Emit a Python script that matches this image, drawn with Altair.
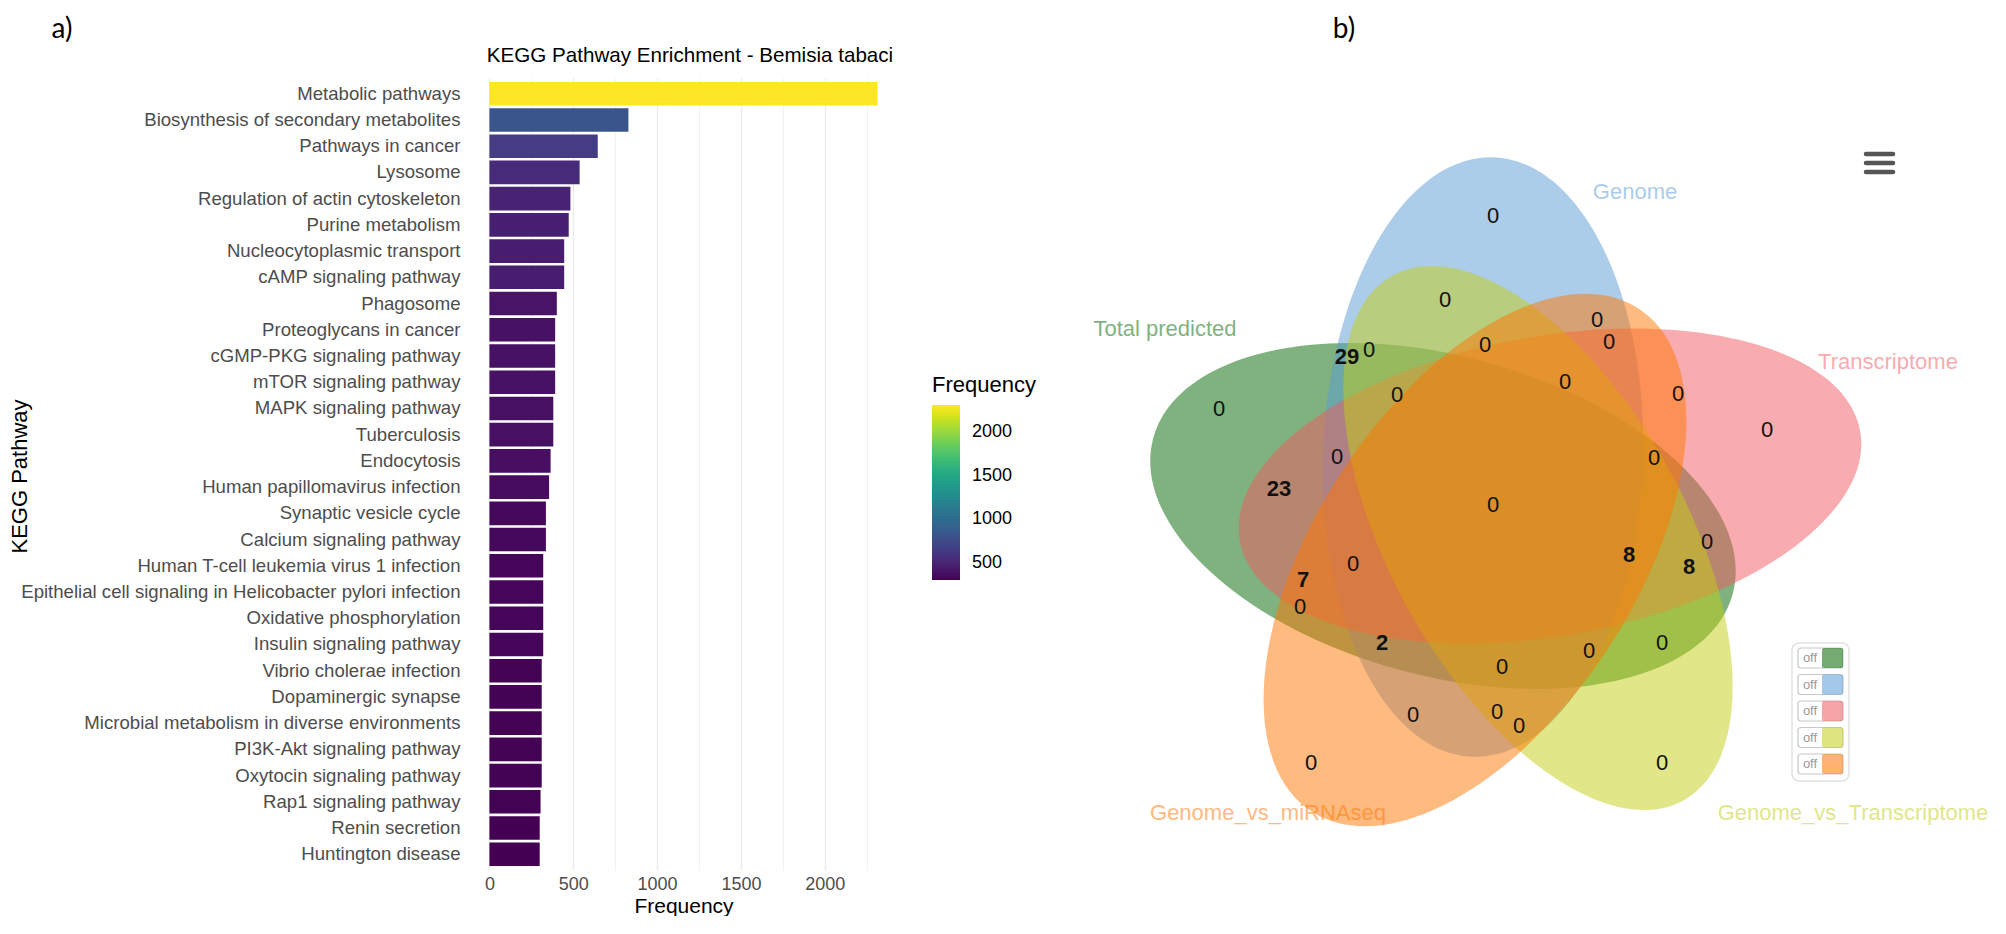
import altair as alt
import pandas as pd

# ---------------- panel a data ----------------
pathways = [
    "Metabolic pathways", "Biosynthesis of secondary metabolites", "Pathways in cancer", "Lysosome",
    "Regulation of actin cytoskeleton", "Purine metabolism", "Nucleocytoplasmic transport",
    "cAMP signaling pathway", "Phagosome", "Proteoglycans in cancer", "cGMP-PKG signaling pathway",
    "mTOR signaling pathway", "MAPK signaling pathway", "Tuberculosis", "Endocytosis",
    "Human papillomavirus infection", "Synaptic vesicle cycle", "Calcium signaling pathway",
    "Human T-cell leukemia virus 1 infection",
    "Epithelial cell signaling in Helicobacter pylori infection", "Oxidative phosphorylation",
    "Insulin signaling pathway", "Vibrio cholerae infection", "Dopaminergic synapse",
    "Microbial metabolism in diverse environments", "PI3K-Akt signaling pathway",
    "Oxytocin signaling pathway", "Rap1 signaling pathway", "Renin secretion", "Huntington disease",
]
frequency = [2315, 829, 646, 538, 483, 473, 446, 446, 402, 392, 392, 392, 381, 381, 365,
             356, 337, 337, 321, 321, 321, 321, 312, 312, 312, 312, 312, 305, 300, 300]
x_ticks = [0, 250, 500, 750, 1000, 1250, 1500, 1750, 2000, 2250]
legend_ticks = [500, 1000, 1500, 2000]
bar_title = ["KEGG Pathway Enrichment - Bemisia tabaci"]

# ---------------- panel b data ----------------
set_names = ["Total predicted", "Genome", "Transcriptome", "Genome_vs_Transcriptome", "Genome_vs_miRNAseq"]
set_colors = ["#006600", "#5a9bd4", "#f15a60", "#c3cd14", "#ff7500"]
region_counts = [0, 0, 0, 0, 29, 0, 0, 0, 0, 23, 0, 0, 7, 0, 2, 0,
                 0, 0, 0, 0, 0, 8, 8, 0, 0, 0, 0, 0, 0, 0, 0]
panel_tags = ["a)", "b)"]

# ---------------- layout (page pixel positions) ----------------
PAD_TOP = 8
PL, PT, PW, PH = 468, 74, 427, 792          # bar panel plot area
VX0, VY0 = 1056, 74                         # Venn panel origin
WV, HV = 1995 - VX0, 760
ell_x = [1443, 1483, 1550, 1538, 1475]
ell_y = [512, 453, 482, 534, 556]
ell_rot = [15, 92, 170, 61, 123]
ell_a = [300, 300, 315, 300, 300]
ell_b = [160, 160, 150, 148, 160]
lab_x = [1165, 1635, 1888, 1853, 1268]
lab_y = [325, 188, 358, 809, 809]
region_x = [1493, 1445, 1485, 1565, 1347, 1369, 1397, 1219, 1337, 1279, 1493, 1353, 1303, 1300, 1382, 1597,
            1609, 1678, 1767, 1654, 1707, 1629, 1689, 1589, 1662, 1662, 1502, 1413, 1497, 1519, 1311]
region_y = [212, 296, 341, 378, 353, 346, 391, 405, 453, 485, 501, 560, 576, 603, 639, 316,
            338, 390, 426, 454, 538, 551, 563, 647, 639, 759, 663, 711, 708, 722, 759]
toggle_y = [654, 680.5, 707, 733.5, 760]
tag_x = [60, 1344]
tag_y = [26, 26]
title_xy = (688, 52)

FONT = "Liberation Sans"

# ================= panel a =================
bar_df = pd.DataFrame({"pathway": pathways, "Frequency": frequency})
fmax = max(frequency)
xdom = [-0.05 * fmax, 1.05 * fmax]

bar_base = alt.Chart(bar_df).mark_bar().encode(
    x=alt.X("Frequency:Q",
            scale=alt.Scale(domain=xdom, nice=False, zero=False),
            axis=alt.Axis(values=x_ticks, format="d",
                          labelExpr="datum.value % 500 === 0 ? datum.label : ''",
                          domain=False, ticks=False, labelFontSize=18, labelColor="#4d4d4d",
                          labelFont=FONT, labelPadding=5, titleFontSize=21, titleFont=FONT,
                          titleFontWeight="normal", titleColor="black", titlePadding=2,
                          gridColor="#ebebeb",
                          gridWidth={"condition": {"test": "datum.value % 500 === 0", "value": 1.3},
                                     "value": 0.7})),
    y=alt.Y("pathway:N", sort=pathways, title="KEGG Pathway",
            scale=alt.Scale(paddingInner=0.1, paddingOuter=0.15),
            axis=alt.Axis(domain=False, ticks=False, bandPosition=0.5, gridColor="#ebebeb",
                          gridWidth=1.3, labelFontSize=18.6, labelColor="#4d4d4d", labelFont=FONT,
                          labelPadding=10, labelLimit=1000, titleFontSize=22, titleFont=FONT,
                          titleFontWeight="normal", titleColor="black",
                          titleX=-451, titleY=398, titleAlign="center", titleBaseline="middle",
                          titleAngle=270)),
    color=alt.Color("Frequency:Q", scale=alt.Scale(scheme="viridis"),
                    legend=alt.Legend(orient="none", legendX=462, legendY=297, direction="vertical",
                                      values=legend_ticks, format="d", gradientLength=175,
                                      gradientThickness=28, titleFontSize=22, titleFont=FONT,
                                      titleFontWeight="normal", titleColor="black", titlePadding=8,
                                      labelFontSize=18, labelFont=FONT, labelColor="black",
                                      labelOffset=12, gradientStrokeWidth=0)),
)

ax_px = dict(scale=alt.Scale(domain=[PL, PL + PW], nice=False, zero=False), axis=None)
ay_px = dict(scale=alt.Scale(domain=[PT, PT + PH], nice=False, zero=False, reverse=True), axis=None)

tag_a = alt.Chart(pd.DataFrame({"tag": panel_tags[:1], "x": tag_x[:1], "y": tag_y[:1]})).mark_text(
    font="Lato", fontSize=28, color="black", align="center", baseline="middle").encode(
    x=alt.X("x:Q", **ax_px), y=alt.Y("y:Q", **ay_px), text="tag:N")

title_a = alt.Chart(pd.DataFrame({"t": bar_title, "x": [title_xy[0]], "y": [title_xy[1]]})).mark_text(
    font=FONT, fontSize=20.6, color="black", align="center", baseline="middle").encode(
    x=alt.X("x:Q", **ax_px), y=alt.Y("y:Q", **ay_px), text="t:N")

bars = alt.layer(bar_base, tag_a, title_a).resolve_scale(
    x="independent", y="independent").properties(width=PW, height=PH)

# ================= panel b =================
vx = dict(scale=alt.Scale(domain=[VX0, VX0 + WV], nice=False, zero=False), axis=None)
vy = dict(scale=alt.Scale(domain=[VY0, VY0 + HV], nice=False, zero=False, reverse=True), axis=None)

ell_df = pd.DataFrame({"set": set_names, "color": set_colors, "x": ell_x, "y": ell_y, "rot": ell_rot,
                       "a": ell_a, "b": ell_b})
ell_df["path"] = ell_df.apply(
    lambda r: "M -1 0 A 1 {0:.3f} 0 1 1 1 0 A 1 {0:.3f} 0 1 1 -1 0 Z".format(r["b"] / r["a"]), axis=1)
ell_df["area"] = (2 * ell_df["a"]) ** 2

lab_df = pd.DataFrame({"set": set_names, "color": set_colors, "x": lab_x, "y": lab_y})
reg_df = pd.DataFrame({"count": region_counts, "x": region_x, "y": region_y})
tog_df = pd.DataFrame({"set": set_names, "color": set_colors, "ty": toggle_y})
tog_df["y0"] = tog_df["ty"] - 10
tog_df["y1"] = tog_df["ty"] + 10
tog_df["x0"] = 1798
tog_df["xm"] = 1822
tog_df["x1"] = 1843
tog_df["tx"] = 1810
tog_df["label"] = "off"
box_df = pd.DataFrame({"x0": [1792], "x1": [1849], "y0": [639], "y1": [777]})
icon_df = pd.DataFrame({"x0": [1866] * 3, "x1": [1893] * 3, "y": [150, 159, 168]})
tag_b_df = pd.DataFrame({"tag": panel_tags[1:], "x": tag_x[1:], "y": tag_y[1:]})

ellipses = alt.Chart(ell_df).mark_point(filled=True, opacity=0.5, strokeWidth=0).encode(
    x=alt.X("x:Q", **vx), y=alt.Y("y:Q", **vy),
    angle=alt.Angle("rot:Q", scale=None),
    shape=alt.Shape("path:N", scale=None),
    size=alt.Size("area:Q", scale=None),
    color=alt.Color("color:N", scale=None),
)
set_labels = alt.Chart(lab_df).mark_text(font=FONT, fontSize=22, opacity=0.5,
                                         align="center", baseline="middle").encode(
    x=alt.X("x:Q", **vx), y=alt.Y("y:Q", **vy), text="set:N",
    color=alt.Color("color:N", scale=None),
)
zeros = alt.Chart(reg_df).transform_filter("datum.count == 0").mark_text(
    font=FONT, fontSize=22, color="#111", align="center", baseline="middle").encode(
    x=alt.X("x:Q", **vx), y=alt.Y("y:Q", **vy), text="count:Q")
nonzero = alt.Chart(reg_df).transform_filter("datum.count > 0").mark_text(
    font=FONT, fontSize=22, fontWeight="bold", color="#111", align="center", baseline="middle").encode(
    x=alt.X("x:Q", **vx), y=alt.Y("y:Q", **vy), text="count:Q")
box = alt.Chart(box_df).mark_rect(fill="white", stroke="#e2e2e2", strokeWidth=1.5, cornerRadius=7).encode(
    x=alt.X("x0:Q", **vx), x2="x1:Q", y=alt.Y("y0:Q", **vy), y2="y1:Q")
tog_bg = alt.Chart(tog_df).mark_rect(fill="white", stroke="#c8c8c8", strokeWidth=1.2, cornerRadius=3).encode(
    x=alt.X("x0:Q", **vx), x2="x1:Q", y=alt.Y("y0:Q", **vy), y2="y1:Q")
tog_col = alt.Chart(tog_df).mark_rect(opacity=0.55, cornerRadius=2).encode(
    x=alt.X("xm:Q", **vx), x2="x1:Q", y=alt.Y("y0:Q", **vy), y2="y1:Q",
    color=alt.Color("color:N", scale=None))
tog_txt = alt.Chart(tog_df).mark_text(font=FONT, fontSize=13, color="#999", align="center",
                                      baseline="middle").encode(
    x=alt.X("tx:Q", **vx), y=alt.Y("ty:Q", **vy), text="label:N")
icon = alt.Chart(icon_df).mark_rule(color="#555", strokeWidth=4.5, strokeCap="round").encode(
    x=alt.X("x0:Q", **vx), x2="x1:Q", y=alt.Y("y:Q", **vy))
tag_b = alt.Chart(tag_b_df).mark_text(font="Lato", fontSize=28, color="black", align="center",
                                      baseline="middle").encode(
    x=alt.X("x:Q", **vx), y=alt.Y("y:Q", **vy), text="tag:N")

venn = alt.layer(ellipses, set_labels, zeros, nonzero, box, tog_bg, tog_col, tog_txt, icon, tag_b).properties(
    width=WV, height=HV)

chart = alt.hconcat(bars, venn, spacing=20).resolve_scale(color="independent").properties(
    padding={"top": PAD_TOP, "left": 0, "right": 0, "bottom": 0}, background="white").configure(
    font=FONT).configure_view(stroke=None)

chart.save("out.html", embed_options={"renderer": "svg", "actions": False})
